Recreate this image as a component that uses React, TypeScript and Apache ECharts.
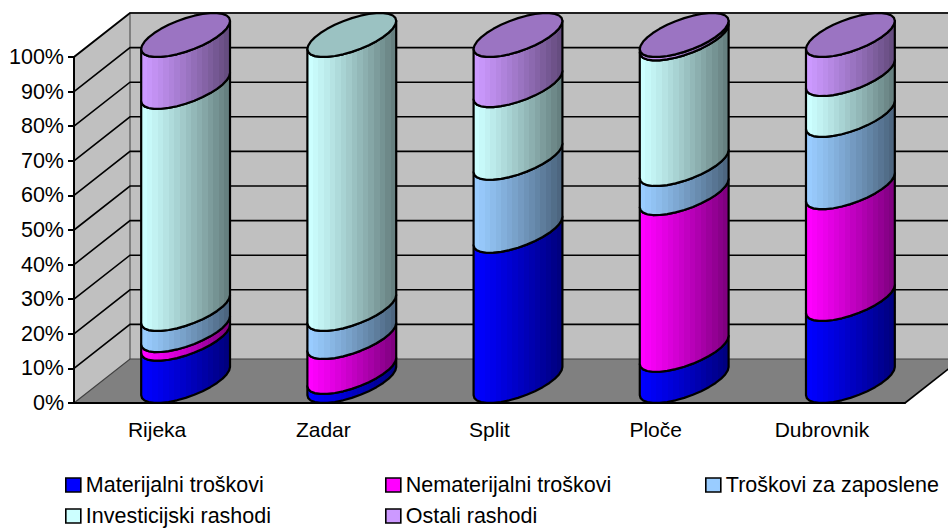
import React, { useEffect, useRef } from "react";
import * as echarts from "echarts";

const categories = ["Rijeka", "Zadar", "Split", "Ploče", "Dubrovnik"];
const materijalni = [12.2, 2.6, 43.4, 9, 23.7];
const nematerijalni = [2.5, 10.1, 0, 45.3, 32.3];
const zaposlene = [6.1, 8.1, 21.1, 8.4, 20.9];
const investicijski = [64.2, 79.2, 21, 36.3, 11.8];
const ostali = [15, 0, 14.5, 1, 11.3];
const yTicks = [0, 10, 20, 30, 40, 50, 60, 70, 80, 90, 100];

const seriesNames = ["Materijalni troškovi", "Nematerijalni troškovi", "Troškovi za zaposlene", "Investicijski rashodi", "Ostali rashodi"];
const seriesValues = [materijalni, nematerijalni, zaposlene, investicijski, ostali];
const seriesColors: number[][] = [[0, 0, 255], [255, 0, 255], [153, 204, 255], [204, 255, 255], [204, 153, 255]];
const legendPos = [[65, 474], [385, 474], [705, 474], [65, 505], [385, 505]];

const FONT = "Liberation Sans";
const DX = 56;
const DY = 44;
const SEG = 16;

const shade = (c: number[], k: number) => `rgb(${c.map((v) => Math.round(v * k)).join(",")})`;

function bandGradient(c: number[]) {
  const n = 16;
  const stops: { offset: number; color: string }[] = [];
  for (let i = 0; i < n; i++) {
    const k = 1 - 0.5 * Math.pow(i / (n - 1), 1.15);
    stops.push({ offset: i / n, color: shade(c, k) });
    stops.push({ offset: (i + 1) / n, color: shade(c, k) });
  }
  return new echarts.graphic.LinearGradient(0, 0, 1, 0, stops);
}

function wallsItem(params: any, api: any) {
  const r = params.coordSys;
  const y0 = api.coord([0, 0])[1];
  const y1 = api.coord([0, 100])[1];
  const xl = r.x;
  const xr = r.x + r.width;
  const grey = "#808080";
  return {
    type: "group",
    children: [
      { type: "polygon", shape: { points: [[xl, y1], [xl + DX, y1 - DY], [xr + DX, y1 - DY], [xr + DX, y0 - DY], [xl + DX, y0 - DY], [xl, y0]] }, style: { fill: "#c0c0c0", stroke: "none" } },
      { type: "polygon", shape: { points: [[xl, y0], [xl + DX, y0 - DY], [xr + DX, y0 - DY], [xr, y0]] }, style: { fill: "#808080", stroke: "none" } },
      { type: "polyline", shape: { points: [[xl, y1], [xl + DX, y1 - DY], [xr + DX, y1 - DY]] }, style: { fill: "none", stroke: grey, lineWidth: 2 } },
      { type: "line", shape: { x1: xl + DX, y1: y1 - DY, x2: xl + DX, y2: y0 - DY }, style: { stroke: grey, lineWidth: 2 } },
      { type: "line", shape: { x1: xr, y1: y0, x2: xr + DX, y2: y0 - DY }, style: { stroke: "#000", lineWidth: 1.6 } },
    ],
  };
}

function gridItem(params: any, api: any) {
  const r = params.coordSys;
  const v = api.value(0);
  const y = api.coord([0, v])[1];
  const xl = r.x;
  const xr = r.x + r.width;
  const zero = v === 0;
  const pts = [[xl, y], [xl + DX, y - DY], [xr + DX, y - DY]];
  return { type: "polyline", shape: { points: pts }, style: { fill: "none", stroke: zero ? "#404040" : "#000", lineWidth: zero ? 1.2 : 1.6 } };
}

function cylinderItem(color: number[]) {
  return (params: any, api: any) => {
    const cat = api.value(0);
    const low = api.value(1);
    const high = api.value(2);
    if (high - low <= 0) return null;
    const a = api.coord([cat, low]);
    const b = api.coord([cat, high]);
    const rx = api.size([1, 0])[0] * 0.205;
    const bx = DX / 2 + 0.5;
    const by = DY / 2;
    const t0 = Math.atan2(bx, rx);
    const at = (base: number[], t: number) => [
      base[0] + bx + rx * Math.cos(t) + bx * Math.sin(t),
      base[1] - by - by * Math.sin(t),
    ];
    const upper: number[][] = [];
    const lower: number[][] = [];
    for (let i = 0; i <= SEG; i++) {
      const t = t0 - (Math.PI * i) / SEG;
      lower.push(at(a, t));
      upper.push(at(b, t));
    }
    const points = [...upper, ...lower.slice().reverse()];
    const children: any[] = [
      {
        type: "polygon",
        shape: { points },
        style: { fill: bandGradient(color), stroke: "#000", lineWidth: 2.2, lineJoin: "round" },
      },
    ];
    if (high >= 99.9) {
      const cap: number[][] = [];
      for (let i = 0; i < SEG * 2; i++) cap.push(at(b, t0 - (Math.PI * i) / SEG));
      children.push({
        type: "polygon",
        shape: { points: cap },
        style: { fill: shade(color, 0.76), stroke: "#000", lineWidth: 2.2, lineJoin: "round" },
      });
    }
    return { type: "group", children };
  };
}

export default function App() {
  const ref = useRef<HTMLDivElement>(null);
  useEffect(() => {
    document.body.style.margin = "0";
    const chart = echarts.init(ref.current!, undefined, { renderer: "svg" });
    const running = categories.map(() => 0);
    const cylinders = seriesNames.map((name, s) => {
      const data = categories.map((_, i) => {
        const low = running[i];
        running[i] += seriesValues[s][i];
        return [i, low, running[i]];
      });
      return {
        type: "custom",
        name,
        z: 4,
        silent: true,
        renderItem: cylinderItem(seriesColors[s]),
        encode: { x: 0, y: [1, 2] },
        data,
        itemStyle: { color: shade(seriesColors[s], 1) },
      };
    });
    chart.setOption({
      animation: false,
      grid: { left: 74, right: 43, top: 57, bottom: 126 },
      legend: seriesNames.map((name, s) => ({
        left: legendPos[s][0],
        top: legendPos[s][1],
        padding: 0,
        itemWidth: 15,
        itemHeight: 14,
        itemGap: 6,
        selectedMode: false,
        textStyle: { fontFamily: FONT, fontSize: 21.5, color: "#000" },
        data: [{ name, icon: "rect", itemStyle: { color: shade(seriesColors[s], 1), borderColor: "#000", borderWidth: 1.6 } }],
      })),
      xAxis: {
        type: "category",
        data: categories,
        z: 3,
        axisLine: { lineStyle: { color: "#000", width: 2 } },
        axisTick: { alignWithLabel: false, length: 7, lineStyle: { color: "#000", width: 2 } },
        axisLabel: { fontFamily: FONT, fontSize: 21, color: "#000", margin: 16 },
      },
      yAxis: {
        type: "value",
        min: 0,
        max: 100,
        interval: 10,
        z: 3,
        axisLine: { show: true, lineStyle: { color: "#000", width: 2 } },
        axisTick: { show: true, length: 6, lineStyle: { color: "#000", width: 2 } },
        splitLine: { show: false },
        axisLabel: { fontFamily: FONT, fontSize: 21.5, color: "#000", margin: 10, formatter: "{value}%" },
      },
      series: [
        { type: "custom", z: 1, silent: true, renderItem: wallsItem, encode: { y: 0 }, data: [[0]] },
        { type: "custom", z: 2, silent: true, renderItem: gridItem, encode: { y: 0 }, data: yTicks.map((t) => [t]) },
        ...cylinders,
      ],
    });
    return () => chart.dispose();
  }, []);
  return <div ref={ref} style={{ width: 948, height: 529 }} />;
}
